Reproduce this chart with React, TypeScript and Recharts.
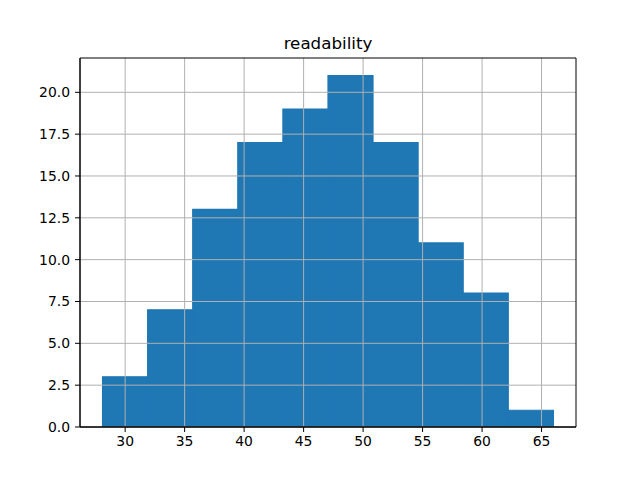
import React from 'react';
import { ComposedChart, Bar, XAxis, YAxis, ReferenceLine } from 'recharts';

// histogram of "readability": 10 bins
const binEdges = [28.1, 31.89, 35.68, 39.47, 43.26, 47.05, 50.84, 54.63, 58.42, 62.21, 66.0];
const counts = [3, 7, 13, 17, 19, 21, 17, 11, 8, 1];
const xTicks = [30, 35, 40, 45, 50, 55, 60, 65];
const yTicks = [0, 2.5, 5, 7.5, 10, 12.5, 15, 17.5, 20];

const data = counts.map((count, i) => ({
  mid: (binEdges[i] + binEdges[i + 1]) / 2,
  count
}));

const W = 640;
const H = 480;
const Y_AXIS_W = 50;
const X_AXIS_H = 30;
const margin = { top: 58, right: 64, bottom: 23, left: 30 };
const PLOT_W = W - margin.left - margin.right - Y_AXIS_W;

const lo = binEdges[0];
const hi = binEdges[binEdges.length - 1];
const pad = (hi - lo) * 0.05;
const xDomain: [number, number] = [lo - pad, hi + pad];
const yDomain: [number, number] = [0, Math.max(...counts) * 1.05];
const binWidth = binEdges[1] - binEdges[0];
const barSize = Math.floor((PLOT_W / (xDomain[1] - xDomain[0])) * binWidth * 10) / 10;

const FONT = 'DejaVu Sans, sans-serif';
const tickStyle = { fontSize: 13.9, fill: '#000', fontFamily: FONT };
const GRID = '#b0b0b0';

export default function App() {
  return (
    <div style={{ position: 'absolute', left: 0, top: 0, width: W, height: H, background: '#fff' }}>
      <ComposedChart width={W} height={H} data={data} margin={margin} barCategoryGap={0} barGap={0}>
        <XAxis
          dataKey="mid"
          type="number"
          domain={xDomain}
          ticks={xTicks}
          allowDataOverflow
          height={X_AXIS_H}
          tick={tickStyle}
          tickSize={5}
          tickMargin={4}
          axisLine={{ stroke: '#000' }}
          tickLine={{ stroke: '#000' }}
        />
        <YAxis
          type="number"
          domain={yDomain}
          ticks={yTicks}
          allowDataOverflow
          width={Y_AXIS_W}
          tick={tickStyle}
          tickFormatter={(v: number) => v.toFixed(1)}
          tickSize={5}
          tickMargin={5}
          axisLine={{ stroke: '#000' }}
          tickLine={{ stroke: '#000' }}
        />
        <Bar
          dataKey="count"
          fill="#1f77b4"
          stroke="#1f77b4"
          strokeWidth={1.2}
          barSize={barSize}
          isAnimationActive={false}
        />
        {/* grid drawn over the bars, like matplotlib */}
        {xTicks.map((t) => (
          <ReferenceLine key={`gx-${t}`} x={t} stroke={GRID} strokeWidth={1} />
        ))}
        {yTicks.map((t) => (
          <ReferenceLine key={`gy-${t}`} y={t} stroke={GRID} strokeWidth={1} />
        ))}
        {/* frame */}
        <ReferenceLine x={xDomain[0]} stroke="#000" strokeWidth={1} />
        <ReferenceLine x={xDomain[1]} stroke="#000" strokeWidth={1} />
        <ReferenceLine y={yDomain[0]} stroke="#000" strokeWidth={1} />
        <ReferenceLine y={yDomain[1]} stroke="#000" strokeWidth={1} />
      </ComposedChart>

      <div
        style={{
          position: 'absolute',
          left: margin.left + Y_AXIS_W,
          width: PLOT_W,
          top: 33,
          textAlign: 'center',
          fontFamily: FONT,
          fontSize: 16.7,
          lineHeight: '20px',
          color: '#000'
        }}
      >
        readability
      </div>
    </div>
  );
}
